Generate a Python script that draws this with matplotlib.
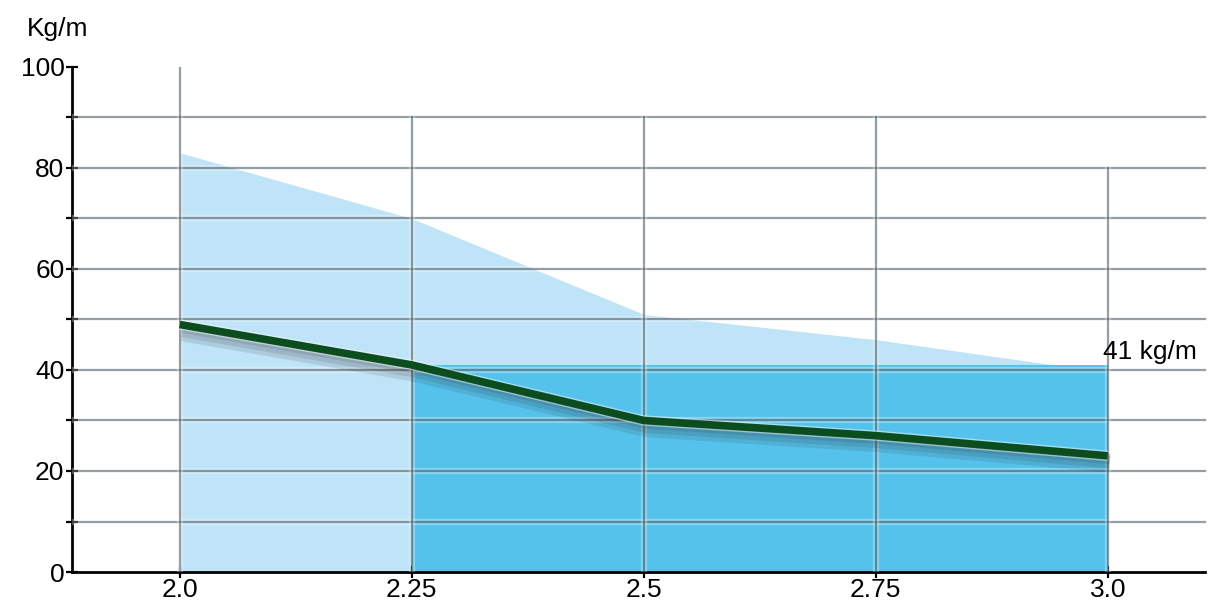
import numpy as np
import matplotlib.pyplot as plt
import matplotlib.patheffects as pe

plt.rcParams['font.family'] = ['Liberation Sans', 'DejaVu Sans']

# data
x_vals = [2.0, 2.25, 2.5, 2.75, 3.0]
x_labels = ['2.0', '2.25', '2.5', '2.75', '3.0']
upper_area = [83, 70, 51, 46, 39.5]
weight_line = [49, 41, 30, 27, 23]
band_start = 2.25
band_level = 41
band_label = '41 kg/m'
y_ticks = [0, 20, 40, 60, 80, 100]
grid_top = [100, 90, 90, 90, 80]

fig = plt.figure(figsize=(12.13, 6.05), dpi=100)
ax = fig.add_axes([0.0594, 0.0545, 0.938, 0.835])
ax.set_xlim(1.884, 3.11)
ax.set_ylim(0, 100)

# fills
ax.fill_between(x_vals, 0, upper_area, color='#bfe3f7', lw=0, zorder=1)
xb = [x for x in x_vals if x >= band_start]
ax.fill_between(xb, 0, band_level, color='#55c2ec', lw=0, zorder=2)
ax.plot([2.0, 2.0], [0, upper_area[0]], color='white', lw=1.5, zorder=2.5)

# grid, with a faint light halo like the reference
halo = [pe.Stroke(linewidth=4.5, foreground='#ffffff', alpha=0.3), pe.Normal()]
for yv in range(10, 100, 10):
    ax.plot([1.884, 3.105], [yv, yv], color='#2b3f4a', lw=1.6, alpha=0.5, zorder=3,
            path_effects=halo)
for xv, top in zip(x_vals, grid_top):
    ax.plot([xv, xv], [0, top], color='#2b3f4a', lw=1.6, alpha=0.5, zorder=3,
            path_effects=halo)

# line with a soft shadow
shadow = [pe.SimpleLineShadow(offset=(1.5, -o), shadow_color='#2a2a2a', alpha=0.12,
                              linewidth=6 + o)
          for o in (2, 4, 6)]
ax.plot(x_vals, weight_line, color='#0c4d1f', lw=5.5, solid_capstyle='butt', zorder=5,
        path_effects=shadow + [pe.Stroke(linewidth=7.5, foreground='#ffffff', alpha=0.45),
                               pe.Normal()])

ax.text(2.995, band_level + 2.5, band_label, fontsize=19, ha='left', va='center', zorder=6)

# axes styling
for s in ['top', 'right']:
    ax.spines[s].set_visible(False)
ax.spines['left'].set_linewidth(2)
ax.spines['bottom'].set_linewidth(2)
ax.spines['bottom'].set_bounds(1.884, 3.105)
ax.set_yticks(y_ticks)
ax.set_yticks(range(10, 100, 20), minor=True)
ax.set_xticks(x_vals)
ax.set_xticklabels(x_labels)
ax.tick_params(axis='y', direction='inout', length=9, width=1.6, labelsize=19, pad=1)
ax.tick_params(axis='y', which='minor', direction='inout', length=9, width=1.6)
ax.tick_params(axis='x', direction='inout', length=8, width=1.6, labelsize=19, pad=0)

fig.text(0.022, 0.952, 'Kg/m', fontsize=19, ha='left', va='center')

fig.savefig('out.png', dpi=100, facecolor='white')
